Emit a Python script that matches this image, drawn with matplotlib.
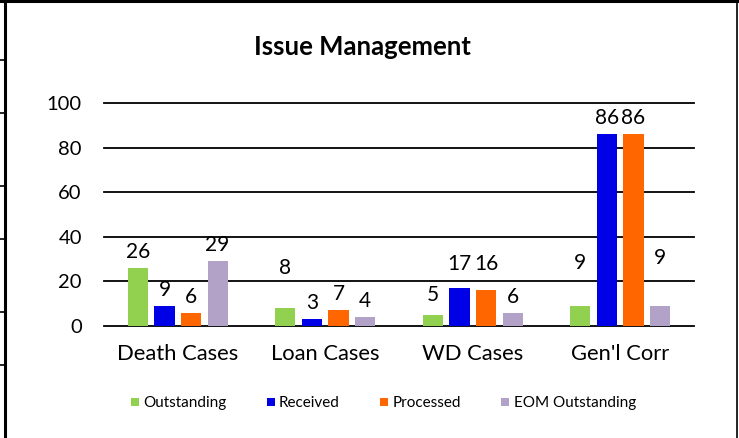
import matplotlib
matplotlib.use("Agg")
import matplotlib.pyplot as plt
from matplotlib.lines import Line2D
import numpy as np

categories = ["Death Cases", "Loan Cases", "WD Cases", "Gen'l Corr"]
series_names = ["Outstanding", "Received", "Processed", "EOM Outstanding"]
outstanding = [26, 8, 5, 9]
received = [9, 3, 17, 86]
processed = [6, 7, 16, 86]
eom_outstanding = [29, 4, 6, 9]
yticks = [0, 20, 40, 60, 80, 100]

series_values = [outstanding, received, processed, eom_outstanding]
colors = ["#92D050", "#0000E6", "#FF6600", "#B3A2C7"]

# label offsets (pixels above bar top to label centre); default and exceptions
default_off = 16
label_off = {(0, 1): 40, (0, 2): 20, (1, 2): 24, (2, 2): 26, (0, 3): 43, (3, 3): 48}

plt.rcParams['font.family'] = ['Lato', 'DejaVu Sans']

W, H = 739, 438
fig = plt.figure(figsize=(W / 100, H / 100), dpi=100)
ax = fig.add_axes([104 / W, (H - 326) / H, (694 - 104) / W, (326 - 103) / H])

x = np.arange(len(categories))
step = 0.18
width = 0.136
for i, (name, vals, c) in enumerate(zip(series_names, series_values, colors)):
    pos = x + (i - 1.5) * step
    ax.bar(pos, vals, width=width, color=c, label=name, zorder=3)
    for j, (p, v) in enumerate(zip(pos, vals)):
        off = label_off.get((i, j), default_off)
        ax.annotate(str(v), (p, v), xytext=(0, off * 72 / 100), textcoords="offset points",
                    ha="center", va="center", fontsize=15, color="black", zorder=4)

ax.set_xlim(-0.5, len(categories) - 0.5)
ax.set_ylim(0, 100)
ax.set_yticks(yticks)
ax.set_yticklabels([str(t) for t in yticks], fontsize=14.5)
ax.set_xticks(x)
ax.set_xticklabels(categories, fontsize=15.8)
ax.tick_params(axis="both", length=0)
ax.tick_params(axis="y", pad=16)
ax.tick_params(axis="x", pad=13)
for s in ax.spines.values():
    s.set_visible(False)
for t in yticks:
    ax.axhline(t, color="black", lw=1.3, zorder=2, clip_on=False)

fig.text(362 / W, 1 - 47 / H, "Issue Management", ha="center", va="center",
         fontsize=18.5, fontweight="bold")

handles = [Line2D([], [], marker="s", linestyle="none", markersize=6, color=c,
                  markeredgewidth=0) for c in colors]
fig.legend(handles, series_names, loc="center", bbox_to_anchor=(383 / W, 1 - 403 / H),
           ncol=4, frameon=False, fontsize=11, handlelength=0.6, handletextpad=0.25,
           columnspacing=2.6, borderpad=0)

# outer frame artifacts
fig.add_artist(Line2D([5 / W, 5 / W], [0, 1], color="black", lw=2.2, transform=fig.transFigure))
fig.add_artist(Line2D([0, 737 / W], [1 - 1 / H, 1 - 1 / H], color="black", lw=2.2, transform=fig.transFigure))
fig.add_artist(Line2D([737 / W, 737 / W], [0, 1], color="black", lw=1.2, transform=fig.transFigure))
for ty in [60, 113, 186, 239, 312, 365]:
    fig.add_artist(Line2D([0, 5 / W], [1 - ty / H, 1 - ty / H], color="black", lw=1.2,
                          transform=fig.transFigure))

fig.savefig("out.png", dpi=100)
